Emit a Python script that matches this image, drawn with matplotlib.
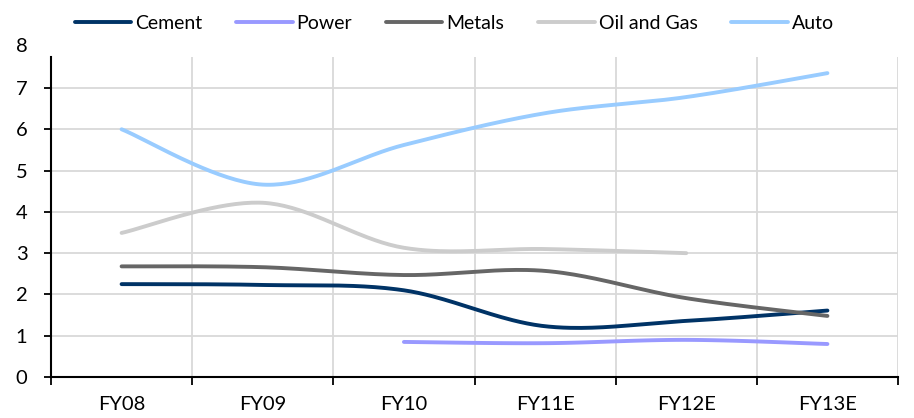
import numpy as np
import matplotlib.pyplot as plt
from matplotlib.ticker import FixedLocator

years = ['FY08', 'FY09', 'FY10', 'FY11E', 'FY12E', 'FY13E']

cement = [2.25, 2.23, 2.10, 1.23, 1.36, 1.61]
power = [None, None, 0.85, 0.82, 0.90, 0.80]
metals = [2.68, 2.66, 2.47, 2.57, 1.91, 1.48]
oil_gas = [3.49, 4.22, 3.13, 3.10, 3.00, None]
auto = [6.00, 4.66, 5.62, 6.39, 6.78, 7.36]

series = [('Cement', cement, '#003366'),
          ('Power', power, '#9999FF'),
          ('Metals', metals, '#666666'),
          ('Oil and Gas', oil_gas, '#CCCCCC'),
          ('Auto', auto, '#99CCFF')]


def smooth(xs, ys, n=40):
	# bezier smoothing like spreadsheet "smoothed line"
	xs = np.asarray(xs, float)
	ys = np.asarray(ys, float)
	px = np.concatenate([[xs[0]], xs, [xs[-1]]])
	py = np.concatenate([[ys[0]], ys, [ys[-1]]])
	outx, outy = [], []
	t = np.linspace(0, 1, n)
	for i in range(1, len(px) - 2):
		p0 = np.array([px[i], py[i]])
		p3 = np.array([px[i + 1], py[i + 1]])
		c1 = p0 + (np.array([px[i + 1], py[i + 1]]) - np.array([px[i - 1], py[i - 1]])) / 6
		c2 = p3 - (np.array([px[i + 2], py[i + 2]]) - np.array([px[i], py[i]])) / 6
		b = ((1 - t) ** 3)[:, None] * p0 + (3 * (1 - t) ** 2 * t)[:, None] * c1 \
			+ (3 * (1 - t) * t ** 2)[:, None] * c2 + (t ** 3)[:, None] * p3
		outx.extend(b[:, 0])
		outy.extend(b[:, 1])
	return outx, outy


plt.rcParams['font.family'] = ['Lato', 'DejaVu Sans']
fs = 14.5

fig = plt.figure(figsize=(9.14, 4.18), dpi=100)
ax = fig.add_axes([0.0558, 0.098, 0.9267, 0.7656])

x = np.arange(len(years))
for name, vals, col in series:
	xs = [x[k] for k in range(len(vals)) if vals[k] is not None]
	ys = [v for v in vals if v is not None]
	sx, sy = smooth(xs, ys)
	ax.plot(sx, sy, color=col, linewidth=2.8, label=name, solid_capstyle='round')

ax.set_xlim(-0.5, len(years) - 0.5)
ax.set_ylim(0, 7.75)
ax.set_yticks(range(0, 8))
ax.annotate('8', xy=(0, 8), xycoords=('axes fraction', 'data'), xytext=(-17, 0),
	textcoords='offset points', ha='right', va='center', fontsize=fs, annotation_clip=False)

ax.set_xticks(x)
ax.set_xticklabels(years, fontsize=fs)
ax.xaxis.set_minor_locator(FixedLocator(np.arange(-0.5, len(years), 1.0)))
ax.tick_params(axis='x', which='major', length=0, pad=14)
ax.tick_params(axis='x', which='minor', length=6, width=1.3, direction='out')
ax.tick_params(axis='y', length=5, width=1.3, labelsize=fs, pad=12)

ax.grid(True, axis='y', color='#d9d9d9', linewidth=1.3)
ax.grid(True, axis='x', which='minor', color='#d9d9d9', linewidth=1.3)
ax.set_axisbelow(True)
for s in ['top', 'right']:
	ax.spines[s].set_visible(False)
for s in ['left', 'bottom']:
	ax.spines[s].set_linewidth(1.5)

fig.legend(loc='center', bbox_to_anchor=(0.497, 0.944), ncol=5, frameon=False,
	fontsize=14, handlelength=2.9, handletextpad=0.2, columnspacing=1.75)

plt.savefig('out.png', dpi=100)
